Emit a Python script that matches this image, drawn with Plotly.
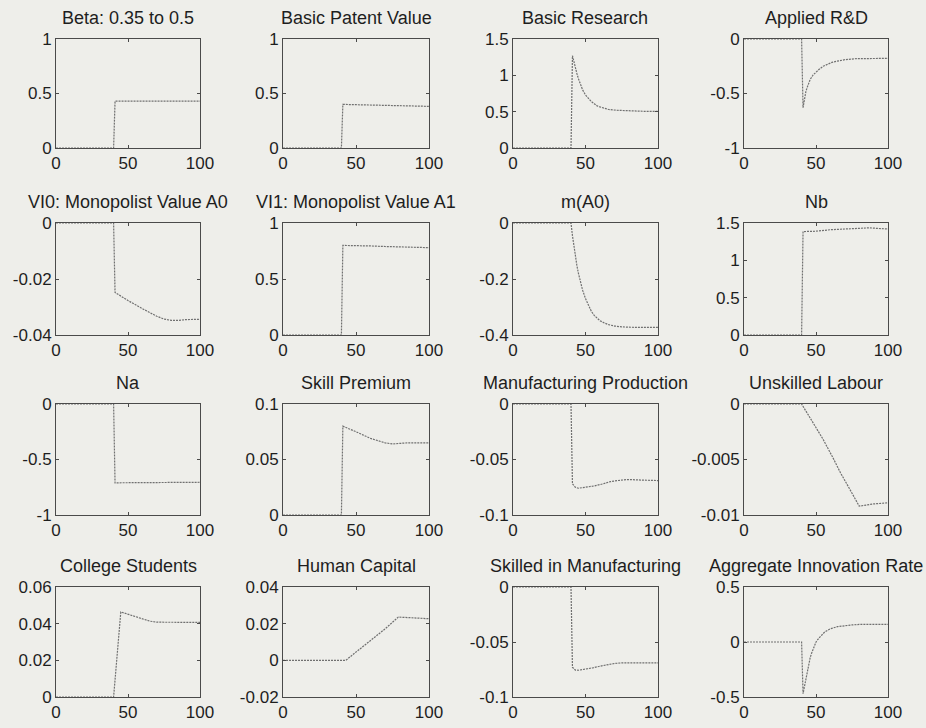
import plotly.graph_objects as go

# ---------------- data ----------------
titles = ["Beta: 0.35 to 0.5", "Basic Patent Value", "Basic Research", "Applied R&D",
          "VI0: Monopolist Value A0", "VI1: Monopolist Value A1", "m(A0)", "Nb",
          "Na", "Skill Premium", "Manufacturing Production", "Unskilled Labour",
          "College Students", "Human Capital", "Skilled in Manufacturing", "Aggregate Innovation Rate"]

t_beta = [0, 40, 41, 100]
beta = [0, 0, 0.43, 0.43]

t_patent = [0, 40, 41, 60, 80, 100]
patent = [0, 0, 0.40, 0.395, 0.388, 0.382]

t_basic = [0, 40, 41, 42, 43, 44, 45, 46, 47, 48, 50, 52, 54, 56, 58, 60, 62, 66, 71, 80, 90, 100]
basic = [0, 0, 1.27, 1.18, 1.10, 1.03, 0.96, 0.90, 0.85, 0.80, 0.73, 0.68, 0.64, 0.61, 0.58, 0.565, 0.55, 0.53, 0.52, 0.51, 0.505, 0.505]

t_applied = [0, 40, 41, 42, 43, 44, 45, 46, 48, 50, 52, 55, 58, 61, 64, 70, 78, 90, 100]
applied = [0, 0, -0.63, -0.55, -0.48, -0.44, -0.40, -0.37, -0.33, -0.30, -0.28, -0.25, -0.23, -0.215, -0.205, -0.19, -0.18, -0.178, -0.178]

t_vi0 = [0, 40, 41, 50, 60, 70, 75, 80, 85, 90, 100]
vi0 = [0, 0, -0.0248, -0.0277, -0.0306, -0.0333, -0.0343, -0.0348, -0.0348, -0.0345, -0.0344]

t_vi1 = [0, 40, 41, 50, 60, 70, 80, 90, 100]
vi1 = [0, 0, 0.80, 0.80, 0.795, 0.79, 0.785, 0.782, 0.78]

t_ma0 = [0, 40, 41, 42, 43, 44, 45, 46, 47, 48, 50, 52, 54, 56, 58, 60, 63, 66, 70, 75, 85, 100]
ma0 = [0, 0, -0.045, -0.085, -0.12, -0.15, -0.177, -0.20, -0.222, -0.24, -0.27, -0.295, -0.315, -0.33, -0.341, -0.349, -0.357, -0.363, -0.368, -0.371, -0.373, -0.373]

t_nb = [0, 40, 41, 50, 60, 70, 80, 87, 95, 100]
nb = [0, 0, 1.385, 1.39, 1.41, 1.42, 1.43, 1.435, 1.425, 1.42]

t_na = [0, 40, 41, 60, 80, 100]
na = [0, 0, -0.71, -0.708, -0.705, -0.705]

t_skill = [0, 40, 41, 45, 50, 55, 60, 65, 70, 75, 85, 100]
skill = [0, 0, 0.080, 0.078, 0.075, 0.072, 0.069, 0.067, 0.065, 0.064, 0.065, 0.065]

t_manuf = [0, 40, 41, 43, 45, 50, 56, 62, 67, 72, 79, 88, 100]
manuf = [0, 0, -0.072, -0.075, -0.0759, -0.075, -0.0738, -0.072, -0.070, -0.069, -0.068, -0.0685, -0.069]

t_unsk = [0, 40, 48, 55, 62, 67, 74, 80, 90, 100]
unsk = [0, 0, -0.0017, -0.0032, -0.0049, -0.0062, -0.0078, -0.0092, -0.009, -0.0089]

t_college = [0, 40, 45, 50, 55, 60, 65, 70, 80, 90, 100]
college = [0, 0, 0.0464, 0.0452, 0.0438, 0.0425, 0.0414, 0.0408, 0.0407, 0.0407, 0.0407]

t_human = [0, 43, 50, 60, 70, 79, 85, 90, 100]
human = [0, 0, 0.0045, 0.0110, 0.0172, 0.0236, 0.0234, 0.023, 0.0227]

t_skmanuf = [0, 40, 41, 43, 45, 50, 55, 60, 65, 70, 75, 85, 100]
skmanuf = [0, 0, -0.073, -0.0755, -0.0757, -0.0748, -0.0735, -0.072, -0.0705, -0.0695, -0.069, -0.069, -0.069]

t_innov = [0, 40, 41, 42, 43, 44, 45, 46, 47, 48, 50, 52, 54, 56, 58, 60, 65, 70, 75, 80, 90, 100]
innov = [0, 0, -0.47, -0.40, -0.33, -0.26, -0.20, -0.14, -0.10, -0.06, 0.0, 0.035, 0.065, 0.09, 0.105, 0.12, 0.14, 0.15, 0.155, 0.16, 0.16, 0.16]

series_t = [t_beta, t_patent, t_basic, t_applied, t_vi0, t_vi1, t_ma0, t_nb,
            t_na, t_skill, t_manuf, t_unsk, t_college, t_human, t_skmanuf, t_innov]
series_v = [beta, patent, basic, applied, vi0, vi1, ma0, nb,
            na, skill, manuf, unsk, college, human, skmanuf, innov]

y_ranges = [[0, 1], [0, 1], [0, 1.5], [-1, 0],
            [-0.04, 0], [0, 1], [-0.4, 0], [0, 1.5],
            [-1, 0], [0, 0.1], [-0.1, 0], [-0.01, 0],
            [0, 0.06], [-0.02, 0.04], [-0.1, 0], [-0.5, 0.5]]

y_tickvals = [[0, 0.5, 1], [0, 0.5, 1], [0, 0.5, 1, 1.5], [-1, -0.5, 0],
              [-0.04, -0.02, 0], [0, 0.5, 1], [-0.4, -0.2, 0], [0, 0.5, 1, 1.5],
              [-1, -0.5, 0], [0, 0.05, 0.1], [-0.1, -0.05, 0], [-0.01, -0.005, 0],
              [0, 0.02, 0.04, 0.06], [-0.02, 0, 0.02, 0.04], [-0.1, -0.05, 0], [-0.5, 0, 0.5]]

y_ticktext = [["0", "0.5", "1"], ["0", "0.5", "1"], ["0", "0.5", "1", "1.5"], ["-1", "-0.5", "0"],
              ["-0.04", "-0.02", "0"], ["0", "0.5", "1"], ["-0.4", "-0.2", "0"], ["0", "0.5", "1", "1.5"],
              ["-1", "-0.5", "0"], ["0", "0.05", "0.1"], ["-0.1", "-0.05", "0"], ["-0.01", "-0.005", "0"],
              ["0", "0.02", "0.04", "0.06"], ["-0.02", "0", "0.02", "0.04"], ["-0.1", "-0.05", "0"], ["-0.5", "0", "0.5"]]

x_tickvals = [0, 50, 100]
x_ticktext = ["0", "50", "100"]

# ---------------- layout ----------------
W, H = 926, 728
col_px = [(56, 200), (283, 429), (513, 658), (744, 888)]
row_px = [(39, 148), (223, 335), (404, 515), (587, 697)]

BG = "#eeeeea"
AX = "#4a4a4a"
TXT = "#1e1e1e"
FONT = "Liberation Sans, Arial, Helvetica, sans-serif"
FS = 17
TFS = 18

fig = go.Figure()
layout = dict(
    width=W, height=H, margin=dict(l=0, r=0, t=0, b=0, autoexpand=False),
    paper_bgcolor=BG, plot_bgcolor=BG, showlegend=False,
    font=dict(family=FONT, size=FS, color=TXT),
)
annotations = []
for i in range(16):
    r, c = divmod(i, 4)
    n = i + 1
    xd = [col_px[c][0] / W, col_px[c][1] / W]
    yd = [1 - row_px[r][1] / H, 1 - row_px[r][0] / H]
    xname = "xaxis" if n == 1 else f"xaxis{n}"
    yname = "yaxis" if n == 1 else f"yaxis{n}"
    common = dict(ticks="inside", ticklen=3, tickcolor=AX, showline=True, linecolor=AX,
                  linewidth=1, mirror="ticks", showgrid=False, zeroline=False,
                  fixedrange=True, automargin=False,
                  tickfont=dict(family=FONT, size=FS, color=TXT))
    layout[xname] = dict(domain=xd, anchor=f"y{n}" if n > 1 else "y", range=[0, 100],
                         tickvals=x_tickvals, ticktext=x_ticktext, **common)
    layout[yname] = dict(domain=yd, anchor=f"x{n}" if n > 1 else "x", range=y_ranges[i],
                         tickvals=y_tickvals[i], ticktext=y_ticktext[i], **common)
    fig.add_trace(go.Scatter(x=series_t[i], y=series_v[i], mode="lines",
                             line=dict(color="#707070", width=1.2, dash="2px,1px"),
                             xaxis=f"x{n}" if n > 1 else "x", yaxis=f"y{n}" if n > 1 else "y",
                             hoverinfo="skip"))
    annotations.append(dict(text=titles[i], x=(xd[0] + xd[1]) / 2, y=yd[1], xref="paper", yref="paper",
                            xanchor="center", yanchor="bottom", yshift=9, showarrow=False,
                            font=dict(family=FONT, size=TFS, color=TXT)))
layout["annotations"] = annotations
fig.update_layout(**layout)
fig.write_html("out.html")
